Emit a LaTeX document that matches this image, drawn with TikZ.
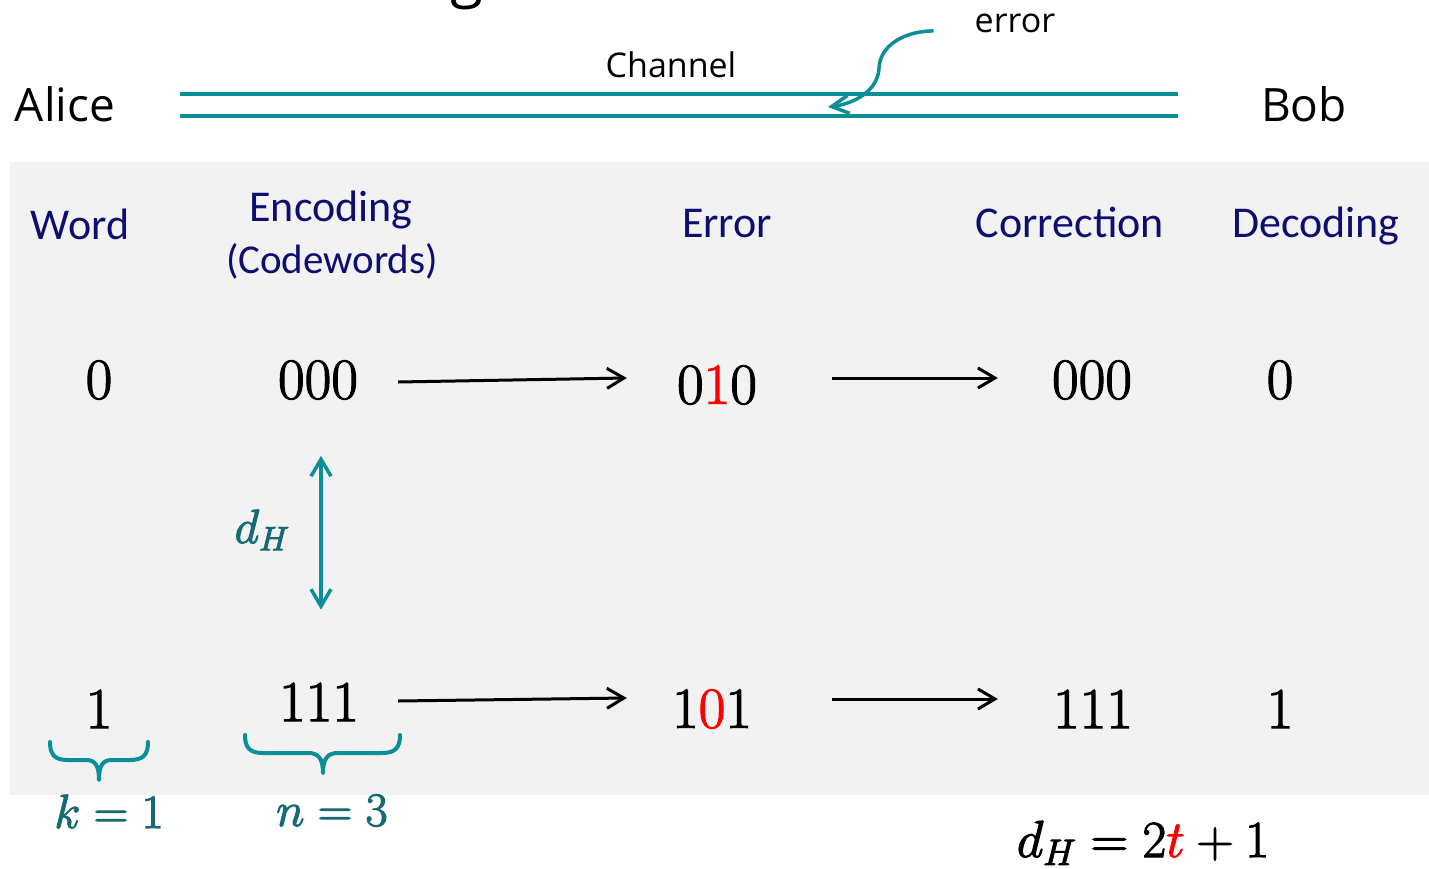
\RequirePackage{fix-cm}
\documentclass[tikz,border=0pt]{standalone}
\usepackage{fontspec}
\newfontfamily\uifont{Open Sans}
\newfontfamily\hdrfont{Carlito}
\usetikzlibrary{arrows.meta}

\definecolor{chan}{RGB}{10,143,154}
\definecolor{tealtxt}{RGB}{22,106,116}
\definecolor{navy}{RGB}{14,14,112}
\definecolor{panel}{RGB}{242,242,242}
\definecolor{flip}{RGB}{255,0,0}

% fill and stroke the glyphs so the serif figures come out heavier
\newcommand{\heavytext}[1]{\special{pdf:literal direct q 2 Tr 1.1 w}#1\special{pdf:literal direct Q}}

\begin{document}
\begin{tikzpicture}[x=1pt,y=-1pt,
  every node/.style={inner sep=0pt},
  party/.style={font=\uifont\fontsize{46}{50}\selectfont, anchor=base},
  uilabel/.style={font=\uifont\fontsize{34}{40}\selectfont, anchor=base},
  colhead/.style={font=\hdrfont\fontsize{44}{48}\selectfont, text=navy, anchor=base},
  bits/.style={font=\fontsize{58}{62}\selectfont},
  mathlbl/.style={font=\fontsize{48}{52}\selectfont, text=tealtxt, anchor=base},
  flow/.style={line width=3pt, -{Straight Barb[length=17pt,width=20pt]}},
  dist/.style={line width=3.5pt, chan, {Straight Barb[length=17pt,width=20pt]}-{Straight Barb[length=17pt,width=20pt]}},
  hitarrow/.style={line width=3.5pt, chan, -{Straight Barb[length=17pt,width=18pt]}},
  wire/.style={line width=4pt, chan},
  brace/.style={line width=4pt, chan, line cap=round, line join=round}
]
\useasboundingbox (0,0) rectangle (1429,869);
\clip (0,0) rectangle (1429,869);

% title glyph reaching in from above
\node[font=\uifont\fontsize{60}{64}\selectfont, anchor=base] at (467,-4) {g};

% channel between the two parties
\node[party] (alice) at (65,122) {Alice};
\node[party] (bob) at (1304,122) {Bob};
\node[uilabel] (chanlbl) at (671,78) {Channel};
\node[uilabel] (err) at (1015,33) {error};
\draw[wire] (180,94) -- (1178,94);
\draw[wire] (180,116) -- (1178,116);
\coordinate (hit) at (828,107);
\draw[hitarrow] ([xshift=-41pt,yshift=-7pt]err.west)
  .. controls (905,31) and (880,45) .. (879,68)
  .. controls (878,92) and (852,104) .. (hit);

% grey panel with the coding scheme
\fill[panel] (10,162) rectangle (1429,795);

\node[colhead] (hword) at (80,239) {Word};
\node[colhead] (henc) at (331,222) {Encoding};
\node[colhead, font=\hdrfont\fontsize{41}{46}\selectfont] (hcw) at (332,273) {(Codewords)};
\node[colhead] (herr) at (727,237) {Error};
\node[colhead] (hcor) at (1070,237) {Correction};
\node[colhead] (hdec) at (1316,237) {Decoding};

% first row
\node[bits] (w0) at (99,380) {\heavytext{0}};
\node[bits] (c0) at (318,380) {\heavytext{000}};
\node[bits] (e0) at (717,385) {\heavytext{0{\color{flip}1}0}};
\node[bits] (r0) at (1092,380) {\heavytext{000}};
\node[bits] (d0) at (1280,380) {\heavytext{0}};

% second row
\node[bits] (w1) at (99,709) {\heavytext{1}};
\node[bits] (c1) at (319,702) {\heavytext{111}};
\node[bits] (e1) at (712,709) {\heavytext{1{\color{flip}0}1}};
\node[bits] (r1) at (1093,709) {\heavytext{111}};
\node[bits] (d1) at (1280,709) {\heavytext{1}};

\draw[flow] ([xshift=40pt,yshift=-2pt]c0.east) -- ([xshift=-50pt,yshift=7pt]e0.west);
\draw[flow] ([xshift=75pt,yshift=7pt]e0.east) -- ([xshift=-54pt,yshift=2pt]r0.west);
\draw[flow] ([xshift=39pt,yshift=1pt]c1.east) -- ([xshift=-45pt,yshift=11pt]e1.west);
\draw[flow] ([xshift=80pt,yshift=10pt]e1.east) -- ([xshift=-55pt,yshift=10pt]r1.west);

% Hamming distance between the codewords
\draw[dist] ([xshift=3pt,yshift=-56pt]c0.south) -- ([xshift=2pt,yshift=73pt]c1.north);
\node[mathlbl] (dh) at (262,543) {\heavytext{$d_H$}};

% braces for message and code length
\draw[brace] (50,742) .. controls (50,755) and (55,760) .. (68,760) -- (86,760)
  .. controls (95,760) and (99,765) .. (99,780)
  .. controls (99,765) and (103,760) .. (112,760) -- (130,760)
  .. controls (143,760) and (148,755) .. (148,742);
\draw[brace] (245,735) .. controls (245,748) and (250,753) .. (263,753) -- (308,753)
  .. controls (318,753) and (323,758) .. (323,773)
  .. controls (323,758) and (328,753) .. (338,753) -- (382,753)
  .. controls (395,753) and (400,748) .. (400,735);
\node[mathlbl] (klbl) at (109,828) {\heavytext{$k=1$}};
\node[mathlbl] (nlbl) at (332,826) {\heavytext{$n=3$}};

% error-correcting condition
\node[font=\fontsize{52}{56}\selectfont, anchor=base] (cond) at (1143,857) {\heavytext{$d_H=2{\color{flip}t}+1$}};
\end{tikzpicture}
\end{document}
